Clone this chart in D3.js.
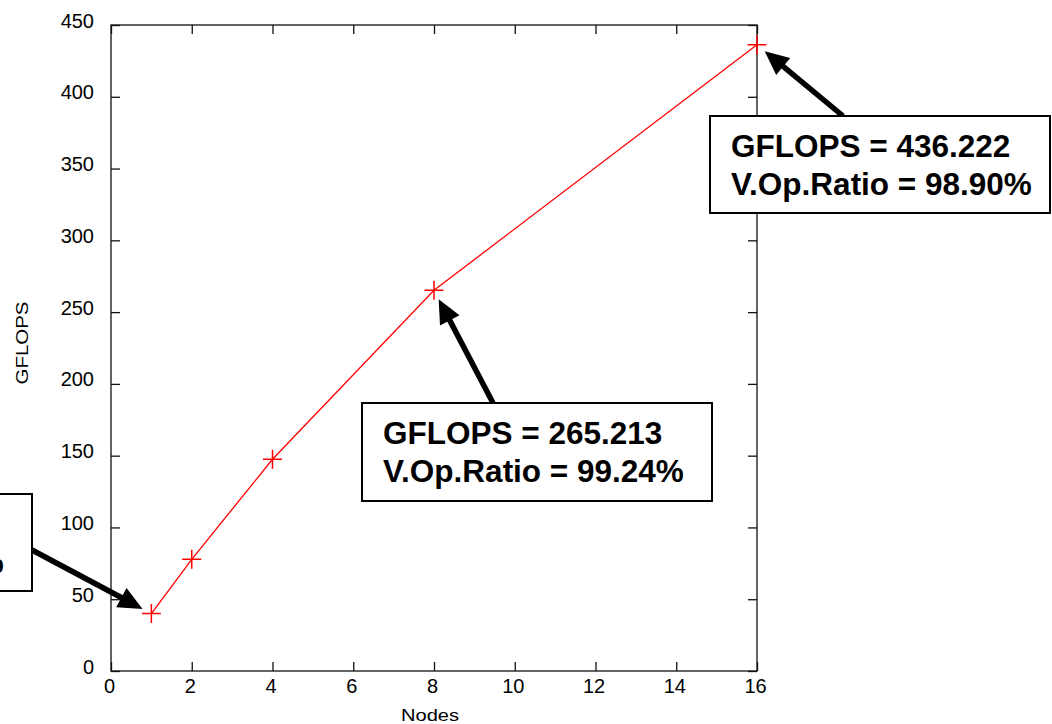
<!DOCTYPE html>
<html>
<head>
<meta charset="utf-8">
<script src="https://cdn.jsdelivr.net/npm/d3@7"></script>
<style>
  body { margin: 0; background: #fff; }
  svg { display: block; }
  text { font-family: "Liberation Sans", Arial, sans-serif; }
</style>
</head>
<body>
<svg></svg>
<script>
// data
var nodes = [1, 2, 4, 8, 16];
var gflops = [40.0, 77.8, 147.5, 265.213, 436.222];
var xTicks = [0, 2, 4, 6, 8, 10, 12, 14, 16];
var yTicks = [0, 50, 100, 150, 200, 250, 300, 350, 400, 450];

// annotated points (index into the series) and their ratio text
var notePoints = [0, 3, 4];
var noteRatios = ["99.52%", "99.24%", "98.90%"];

var config = {
  w: 1052,
  h: 724,
  left: 111,
  right: 757,
  top: 25,
  bottom: 671,
  tick: 9
};

// box layout: left/top corner, width, height, arrow tail point
var boxes = [
  { x: -318, y: 494, w: 350, h: 97, tail: [32, 550] },
  { x: 362, y: 403, w: 350, h: 98, tail: [493, 403] },
  { x: 710, y: 116, w: 340, h: 97, tail: [843, 116] }
];

var svg = d3.select("svg")
  .attr("width", config.w)
  .attr("height", config.h);

var xScale = d3.scaleLinear().domain([0, 16]).range([config.left, config.right]);
var yScale = d3.scaleLinear().domain([0, 450]).range([config.bottom, config.top]);

// frame
svg.append("rect")
  .attr("x", config.left)
  .attr("y", config.top)
  .attr("width", config.right - config.left)
  .attr("height", config.bottom - config.top)
  .attr("fill", "none")
  .attr("stroke", "#111")
  .attr("stroke-width", 1.3);

// mirrored inward ticks, labels bottom/left only
function noLabel() { return ""; }

var gx = svg.append("g")
  .attr("transform", "translate(0," + config.bottom + ")")
  .call(d3.axisBottom(xScale).tickValues(xTicks).tickSize(-config.tick).tickPadding(8));
var gxTop = svg.append("g")
  .attr("transform", "translate(0," + config.top + ")")
  .call(d3.axisTop(xScale).tickValues(xTicks).tickSize(-config.tick).tickFormat(noLabel));
var gy = svg.append("g")
  .attr("transform", "translate(" + config.left + ",0)")
  .call(d3.axisLeft(yScale).tickValues(yTicks).tickSize(-config.tick).tickPadding(17));
var gyRight = svg.append("g")
  .attr("transform", "translate(" + config.right + ",0)")
  .call(d3.axisRight(yScale).tickValues(yTicks).tickSize(-config.tick).tickFormat(noLabel));

[gx, gxTop, gy, gyRight].forEach(function(g) {
  g.select(".domain").remove();
  g.selectAll(".tick line").attr("stroke", "#111").attr("stroke-width", 1.3);
  g.selectAll(".tick text")
    .attr("fill", "#000")
    .style("font-size", "20px")
    .style("font-family", "'Liberation Sans', Arial, sans-serif");
});
gx.selectAll(".tick text").attr("dx", "-2px");
gy.selectAll(".tick text").attr("dy", "0.1em");

// axis titles
svg.append("text")
  .attr("x", (config.left + config.right) / 2 - 4)
  .attr("y", 721)
  .attr("text-anchor", "middle")
  .attr("textLength", 58)
  .attr("lengthAdjust", "spacingAndGlyphs")
  .style("font-size", "16px")
  .text("Nodes");

svg.append("text")
  .attr("transform", "translate(28,343) rotate(-90)")
  .attr("text-anchor", "middle")
  .attr("textLength", 83)
  .attr("lengthAdjust", "spacingAndGlyphs")
  .style("font-size", "16px")
  .text("GFLOPS");

// series
var points = nodes.map(function(n, i) { return { x: xScale(n), y: yScale(gflops[i]) }; });

var line = d3.line()
  .x(function(d) { return d.x; })
  .y(function(d) { return d.y; });

svg.append("path")
  .attr("d", line(points))
  .attr("fill", "none")
  .attr("stroke", "#ff0000")
  .attr("stroke-width", 1.3);

var r = 9.5;
svg.append("g").selectAll("path")
  .data(points)
  .enter()
  .append("path")
    .attr("d", function(d) {
      return "M" + (d.x - r) + "," + d.y + "H" + (d.x + r)
        + "M" + d.x + "," + (d.y - r) + "V" + (d.y + r);
    })
    .attr("stroke", "#ff0000")
    .attr("stroke-width", 1.5)
    .attr("fill", "none");

// annotations
var fmt = d3.format(".3f");
var notes = svg.append("g");

notePoints.forEach(function(idx, k) {
  var b = boxes[k];
  var p = points[idx];

  // arrow from the box to the point
  var tx = b.tail[0], ty = b.tail[1];
  var dx = tx - p.x, dy = ty - p.y;
  var len = Math.sqrt(dx * dx + dy * dy);
  var ux = dx / len, uy = dy / len;
  var tip = [p.x + ux * 10, p.y + uy * 10];
  var headLen = 24, headW = 11;
  var base = [tip[0] + ux * headLen, tip[1] + uy * headLen];

  notes.append("line")
    .attr("x1", tx).attr("y1", ty)
    .attr("x2", base[0] - ux * 2).attr("y2", base[1] - uy * 2)
    .attr("stroke", "#000")
    .attr("stroke-width", 5.5);

  notes.append("path")
    .attr("d", "M" + tip[0] + "," + tip[1]
      + "L" + (base[0] - uy * headW) + "," + (base[1] + ux * headW)
      + "L" + (base[0] + uy * headW) + "," + (base[1] - ux * headW) + "Z")
    .attr("fill", "#000");

  notes.append("rect")
    .attr("x", b.x).attr("y", b.y)
    .attr("width", b.w).attr("height", b.h)
    .attr("fill", "#fff")
    .attr("stroke", "#000")
    .attr("stroke-width", 2);

  var t = notes.append("text")
    .style("font-size", "31.5px")
    .style("font-weight", "bold");
  t.append("tspan")
    .attr("x", b.x + 21).attr("y", b.y + 41)
    .text("GFLOPS = " + fmt(gflops[idx]));
  t.append("tspan")
    .attr("x", b.x + 21).attr("y", b.y + 79)
    .text("V.Op.Ratio = " + noteRatios[k]);
});
</script>
</body>
</html>
